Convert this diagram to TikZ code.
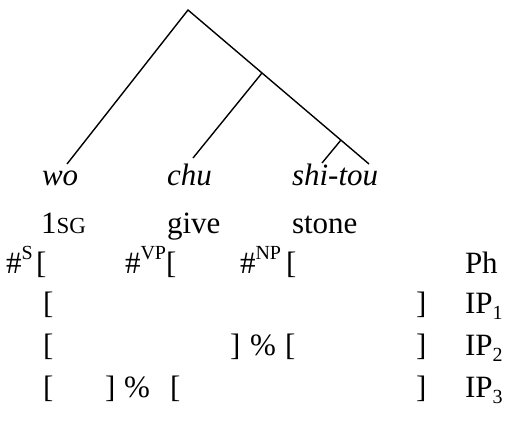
\documentclass[tikz,border=0pt]{standalone}
\usepackage{fontspec}
\setmainfont{Liberation Serif}
\newcommand{\mysup}[1]{\raisebox{0.42em}{\fontsize{20}{20}\selectfont #1}}
\newcommand{\mysub}[1]{\raisebox{-0.22em}{\fontsize{20}{20}\selectfont #1}}
\newcommand{\smcap}[1]{{\fontsize{23}{23}\selectfont #1}}
\begin{document}
\begin{tikzpicture}[x=1pt,y=-1pt,
  txt/.style={anchor=base west,inner sep=0pt,outer sep=0pt,font=\fontsize{31}{37}\selectfont},
  branch/.style={line width=1.4pt}]
\useasboundingbox (0,0) rectangle (529,432);
% tree
\coordinate (root) at (188,10);
\coordinate (vp) at (262,73);
\coordinate (np) at (341,140);
\coordinate (lwo) at (67,164);
\coordinate (lchu) at (193,158);
\coordinate (lshi) at (322,163);
\coordinate (ltou) at (369,164);
\draw[branch] (lwo) -- (root) -- (ltou);
\draw[branch] (vp) -- (lchu);
\draw[branch] (np) -- (lshi);
% words
\node[txt] (wo) at (42,185) {\itshape wo};
\node[txt] (chu) at (167,185) {\itshape chu};
\node[txt] (shitou) at (292,185) {\itshape shi-tou};
% glosses
\node[txt] (g1) at (41,233) {1\smcap{SG}};
\node[txt] (g2) at (167,233) {give};
\node[txt] (g3) at (292,233) {stone};
% Ph row
\node[txt] (hs) at (6,273) {\#\mysup{S}};
\node[txt] (bs) at (36,273) {[};
\node[txt] (hvp) at (125,273) {\#\mysup{VP}};
\node[txt] (bvp) at (166,273) {[};
\node[txt] (hnp) at (240,273) {\#\mysup{NP}};
\node[txt] (bnp) at (286,273) {[};
\node[txt] (ph) at (465,273) {Ph};
% IP1
\node[txt] (a1) at (43,313) {[};
\node[txt] (a2) at (416,313) {]};
\node[txt] (ip1) at (465,313) {IP\mysub{1}};
% IP2
\node[txt] (b1) at (43,355) {[};
\node[txt] (b2) at (230,355) {]};
\node[txt] (b3) at (250,355) {\%};
\node[txt] (b4) at (285,355) {[};
\node[txt] (b5) at (416,355) {]};
\node[txt] (ip2) at (465,355) {IP\mysub{2}};
% IP3
\node[txt] (c1) at (43,397) {[};
\node[txt] (c2) at (105,397) {]};
\node[txt] (c3) at (124,397) {\%};
\node[txt] (c4) at (170,397) {[};
\node[txt] (c5) at (416,397) {]};
\node[txt] (ip3) at (465,397) {IP\mysub{3}};
\end{tikzpicture}
\end{document}
